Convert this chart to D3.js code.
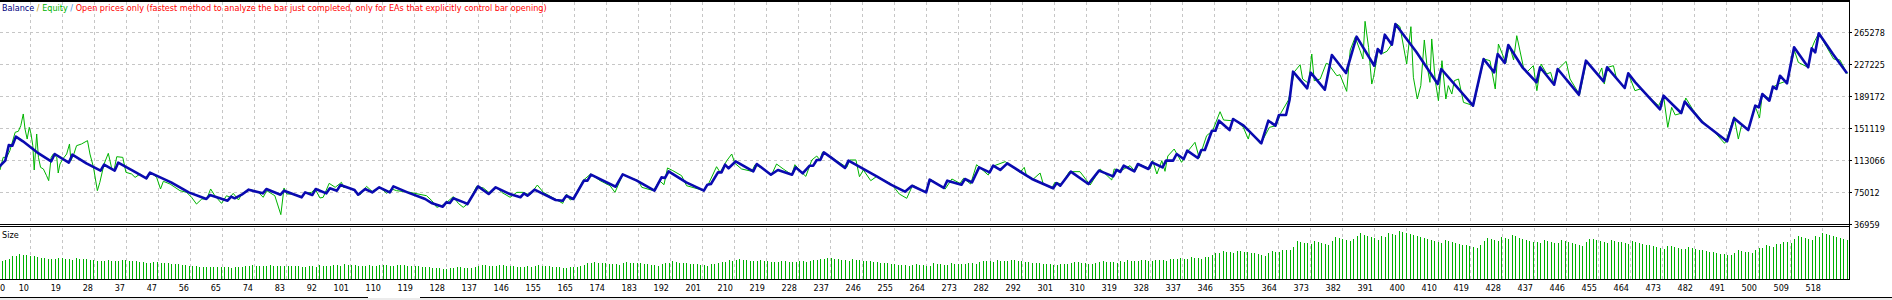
<!DOCTYPE html>
<html>
<head>
<meta charset="utf-8">
<script src="https://cdn.jsdelivr.net/npm/d3@7"></script>
<style>
    html, body { margin: 0; padding: 0; background: #fff; }
    svg { display: block; font-family: "DejaVu Sans Condensed", "DejaVu Sans", sans-serif; font-stretch: condensed; font-size: 9px; }
</style>
</head>
<body>
<div id="chart"></div>
<script>
// trade number labels under the vertical grid lines
const xTickLabels = [0, 10, 19, 28, 37, 47, 56, 65, 74, 83, 92, 101, 110, 119, 128, 137, 146, 155, 165, 174,
    183, 192, 201, 210, 219, 228, 237, 246, 255, 264, 273, 282, 292, 301, 310, 319, 328, 337, 346, 355,
    364, 373, 382, 391, 400, 410, 419, 428, 437, 446, 455, 464, 473, 482, 491, 500, 509, 518];

// money axis labels
const yTickValues = [36959, 75012, 113066, 151119, 189172, 227225, 265278];

// balance turning points: [trade, balance in thousands]
const balancePoints = [[0,100.0],[3,112.3],[4,130.9],[5,130.1],[6,140.8],[8,135.3],[12,122.2],[16,111.5],[17,120.2],
    [21,109.9],[22,119.4],[26,109.1],[30,100.4],[31,107.5],[34,100.4],[35,109.9],[40,98.4],[43,91.3],[44,98.0],
    [50,86.5],[55,74.6],[60,66.7],[61,71.4],[66,64.7],[67,69.5],[68,67.5],[70,71.8],[72,77.8],[76,73.4],[77,78.6],
    [81,71.8],[82,76.6],[87,68.7],[88,74.6],[90,71.4],[91,78.6],[94,73.4],[95,79.4],[97,76.6],[98,83.3],[102,77.4],
    [103,71.8],[105,78.6],[107,74.6],[109,80.6],[112,74.6],[113,81.7],[117,74.6],[122,66.7],[124,61.5],[127,57.6],
    [128,62.7],[129,61.9],[130,67.5],[133,62.7],[134,60.7],[137,81.7],[140,72.6],[142,80.6],[146,72.6],[149,68.7],
    [150,73.4],[151,70.6],[153,77.8],[159,65.5],[161,64.7],[162,70.6],[164,66.7],[167,88.5],[168,88.5],[169,95.6],
    [176,81.3],[178,96.0],[182,88.5],[187,76.6],[189,92.4],[190,91.7],[191,99.6],[196,86.5],[201,76.6],[202,83.7],
    [203,84.5],[205,98.4],[206,98.4],[207,107.5],[208,103.2],[210,111.5],[215,99.6],[216,108.3],[220,95.6],[222,101.2],
    [226,95.6],[227,104.3],[229,97.2],[231,106.3],[232,106.3],[233,113.1],[234,113.1],[235,122.2],[237,116.2],[241,103.6],
    [242,112.3],[250,93.6],[254,83.7],[258,75.4],[260,82.5],[264,74.6],[265,89.7],[269,79.8],[270,88.5],[274,83.7],
    [275,90.5],[277,86.5],[279,104.3],[282,98.4],[283,106.3],[285,101.2],[287,109.1],[291,98.4],[294,90.5],[300,79.4],
    [301,85.7],[302,82.5],[305,99.2],[310,84.5],[313,100.4],[317,93.6],[318,101.2],[319,98.8],[320,106.3],[323,99.6],
    [324,108.3],[327,102.4],[328,110.3],[331,104.3],[332,112.3],[334,112.3],[335,120.2],[337,114.2],[338,124.2],[341,115.4],
    [342,124.9],[343,124.9],[345,147.9],[346,147.9],[347,159.8],[350,148.7],[351,161.8],[354,153.9],[359,132.9],[361,159.8],
    [363,153.9],[364,166.6],[366,166.6],[367,184.4],[368,218.1],[372,198.3],[373,216.9],[377,196.7],[379,237.9],[383,216.5],
    [386,259.7],[391,225.2],[392,245.1],[393,239.9],[394,262.1],[396,250.2],[397,274.8],[403,241.1],[409,203.4],[410,221.3],
    [419,177.7],[422,233.2],[425,217.3],[426,239.1],[428,228.4],[429,249.8],[433,223.3],[437,205.4],[438,223.3],[442,202.6],
    [443,221.3],[449,190.8],[451,231.2],[456,206.6],[457,223.3],[462,198.7],[463,216.1],[465,205.4],[472,173.3],[473,189.6],
    [478,168.9],[479,182.4],[484,157.9],[491,135.3],[493,162.6],[497,148.7],[499,177.7],[500,175.7],[501,191.5],[503,183.6],
    [504,200.3],[505,197.5],[506,213.3],[508,204.2],[510,247.0],[514,223.3],[515,245.9],[516,241.1],[517,263.7],[521,239.1],
    [525,216.1]];

// equity turning points: [trade, equity in thousands]
const equityPoints = [[0,100.0],[1.5,101.2],[2.4,116.2],[3.4,116.2],[4.3,124.2],[5.8,146.0],[6.7,147.2],[7.4,153.9],
    [8.1,167.8],[8.6,149.9],[9.2,138.0],[9.8,151.9],[10.3,144.0],[10.8,130.1],[11.2,101.2],[11.9,144.0],[12.4,116.2],
    [13.0,104.3],[13.8,102.4],[14.7,94.4],[15.3,88.5],[16.0,116.2],[16.6,120.2],[17.6,116.2],[18.0,97.6],[18.5,108.3],
    [19.3,114.2],[20.4,120.2],[21.2,132.1],[21.6,112.3],[22.5,121.0],[23.2,130.1],[24.6,132.1],[26.3,136.1],[27.0,120.2],
    [28.0,104.3],[29.1,76.6],[29.8,86.5],[31.0,108.3],[32.2,121.0],[33.1,104.3],[33.8,100.4],[34.6,117.0],[36.3,116.2],
    [37.2,98.4],[38.8,96.4],[39.8,92.4],[41.2,96.4],[43.1,90.5],[44.2,98.4],[45.9,92.4],[47.0,78.6],[47.8,87.7],[49.7,84.5],
    [52.5,76.6],[54.4,74.6],[55.8,68.7],[57.2,60.7],[58.7,66.7],[60.1,66.7],[61.2,78.6],[62.4,70.6],[64.3,61.5],[65.7,70.6],
    [66.7,68.7],[67.6,73.4],[69.1,65.5],[70.0,72.6],[71.4,76.6],[72.8,77.4],[74.7,74.6],[76.1,68.7],[77.1,76.6],[79.4,70.6],
    [81.1,48.1],[82.0,79.8],[82.8,72.6],[84.6,72.6],[87.0,69.5],[87.9,73.4],[89.8,74.6],[90.8,78.6],[92.2,67.9],[93.1,68.7],
    [94.8,85.3],[96.5,80.6],[98.3,86.5],[98.8,80.6],[100.7,79.8],[102.6,74.6],[103.5,71.4],[105.4,81.7],[107.3,74.6],
    [109.2,80.6],[111.1,73.4],[112.5,78.6],[113.9,76.6],[117.7,74.6],[122.4,70.6],[123.9,64.7],[125.3,56.8],[126.7,58.8],
    [128.1,62.7],[130.0,69.5],[131.4,61.5],[132.8,56.8],[134.0,60.7],[136.6,81.7],[138.5,79.8],[140.4,73.4],[142.3,80.6],
    [143.7,74.6],[146.1,68.7],[148.0,74.6],[149.8,74.6],[151.7,71.4],[153.8,83.3],[155.5,74.6],[159.3,65.5],[161.0,61.5],
    [162.1,72.6],[163.1,65.5],[164.0,66.7],[166.7,88.5],[168.9,96.4],[171.6,88.5],[174.4,82.5],[175.8,74.6],[178.0,95.6],
    [182.4,88.5],[183.4,80.6],[186.7,76.6],[188.4,88.5],[189.7,83.7],[190.7,103.6],[192.2,100.4],[194.7,94.4],[196.1,82.5],
    [199.4,78.6],[200.9,76.6],[202.3,84.5],[204.6,105.1],[205.6,98.4],[207.5,112.3],[208.9,120.2],[209.8,109.1],[211.7,102.4],
    [214.6,99.6],[215.5,107.5],[217.9,102.4],[220.2,95.6],[221.6,108.3],[223.5,102.4],[225.9,95.6],[226.8,107.5],[228.7,98.4],
    [229.9,93.6],[231.6,113.1],[233.0,117.8],[233.9,113.1],[234.6,122.2],[237.2,116.2],[241.5,104.3],[242.4,113.1],[244.1,113.1],
    [245.1,93.2],[246.2,101.2],[248.3,88.5],[250.0,93.6],[254.2,84.5],[256.4,72.6],[258.5,67.5],[260.2,83.3],[263.7,74.6],
    [265.4,89.7],[269.4,78.6],[271.3,90.5],[273.6,85.3],[274.6,91.3],[276.6,84.5],[278.3,107.5],[281.6,95.2],[282.6,105.1],
    [286.4,111.1],[290.6,98.4],[291.8,104.3],[292.5,93.6],[294.4,90.5],[296.3,97.6],[297.2,84.5],[299.6,79.4],[300.5,86.5],
    [302.4,84.5],[304.6,99.2],[307.6,99.2],[310.5,83.3],[313.3,102.4],[316.6,89.3],[317.3,102.4],[319.2,100.4],[321.8,106.3],
    [323.2,99.6],[324.4,108.3],[327.5,102.4],[328.2,112.3],[329.4,96.4],[330.8,112.3],[331.7,99.6],[332.5,117.8],[334.3,126.1],
    [336.4,110.3],[338.3,124.2],[340.2,134.1],[341.4,115.4],[343.5,142.0],[345.2,147.9],[347.3,170.5],[348.3,160.6],[350.6,159.8],
    [351.3,161.8],[353.9,151.9],[355.3,138.0],[355.8,145.9],[358.8,132.1],[361.3,151.9],[363.2,153.9],[364.5,168.6],[366.7,184.4],
    [368.4,218.1],[370.0,226.4],[370.7,209.4],[372.4,204.2],[373.3,239.1],[374.0,207.4],[375.7,209.4],[377.4,228.0],[378.0,227.2],
    [380.4,213.3],[381.3,214.5],[383.2,194.7],[384.2,243.9],[385.6,258.9],[387.0,243.1],[387.8,233.2],[388.4,278.0],[389.4,247.0],
    [390.3,203.4],[390.8,211.4],[392.2,245.1],[393.4,239.9],[394.6,242.3],[396.0,251.0],[397.4,274.8],[398.3,271.6],[400.2,227.2],
    [401.4,271.6],[402.1,211.4],[403.2,185.6],[404.2,201.5],[405.2,255.8],[405.9,227.2],[406.8,205.4],[407.3,257.0],[408.3,207.4],
    [409.2,183.6],[410.2,231.2],[411.3,185.6],[412.0,201.5],[413.0,191.5],[413.7,207.4],[414.9,209.4],[416.3,181.6],[419.1,177.7],
    [422.1,233.2],[423.8,231.2],[425.3,197.5],[426.2,251.0],[428.3,228.4],[429.3,249.8],[430.5,232.0],[431.4,260.9],[433.3,223.3],
    [434.2,217.3],[436.1,225.2],[437.1,195.5],[438.3,227.2],[439.9,215.3],[441.0,217.3],[442.0,202.6],[443.2,221.3],[445.4,230.4],
    [446.5,209.4],[449.2,190.8],[451.2,231.2],[454.5,213.3],[455.5,222.5],[456.2,203.4],[457.2,223.3],[458.8,225.2],[459.7,209.4],
    [462.1,198.7],[463.0,216.1],[464.9,195.5],[466.4,197.5],[471.6,177.7],[473.0,189.6],[474.2,151.9],[475.3,175.7],[476.3,166.6],
    [478.2,168.9],[479.3,186.8],[481.5,171.7],[484.3,157.9],[487.1,147.9],[490.3,132.9],[490.7,135.3],[493.0,164.6],[494.2,138.0],
    [495.2,155.9],[497.1,148.7],[498.9,177.7],[500.2,163.0],[501.0,191.5],[503.2,185.6],[504.2,200.3],[506.0,204.2],[508.1,207.4],
    [510.1,243.1],[511.2,229.2],[513.9,223.3],[515.0,245.9],[515.9,255.0],[517.0,263.7],[519.3,247.0],[521.2,233.2],[523.0,232.0],
    [525.1,215.3]];

// position size (lots) for trades 1 .. 525
const lotSizes = [
    1.00,1.04,1.08,1.12,1.31,1.30,1.41,1.38,1.35,1.32,1.29,1.26,1.22,1.20,1.17,1.14,1.12,1.20,1.18,1.15,
    1.13,1.10,1.19,1.17,1.14,1.12,1.09,1.07,1.05,1.03,1.00,1.08,1.05,1.03,1.00,1.10,1.08,1.05,1.03,1.01,
    0.98,0.96,0.94,0.91,0.98,0.96,0.94,0.92,0.90,0.88,0.87,0.84,0.82,0.79,0.77,0.75,0.73,0.71,0.70,0.68,
    0.67,0.71,0.70,0.69,0.67,0.66,0.65,0.70,0.68,0.70,0.72,0.75,0.78,0.77,0.76,0.75,0.73,0.79,0.77,0.75,
    0.74,0.72,0.77,0.75,0.74,0.72,0.70,0.69,0.75,0.73,0.71,0.79,0.77,0.75,0.73,0.79,0.78,0.77,0.83,0.82,
    0.80,0.79,0.77,0.72,0.75,0.79,0.77,0.75,0.78,0.81,0.79,0.77,0.75,0.82,0.80,0.78,0.76,0.75,0.73,0.72,
    0.70,0.68,0.67,0.64,0.62,0.60,0.59,0.58,0.63,0.62,0.68,0.66,0.64,0.63,0.61,0.68,0.75,0.82,0.79,0.76,
    0.73,0.77,0.81,0.79,0.77,0.75,0.73,0.71,0.70,0.69,0.73,0.71,0.74,0.78,0.76,0.74,0.72,0.70,0.68,0.66,
    0.65,0.65,0.71,0.69,0.67,0.74,0.81,0.89,0.89,0.96,0.94,0.92,0.90,0.87,0.85,0.83,0.81,0.89,0.96,0.94,
    0.92,0.90,0.89,0.86,0.84,0.81,0.79,0.77,0.85,0.92,0.92,1.00,0.97,0.94,0.92,0.89,0.87,0.85,0.83,0.81,
    0.79,0.77,0.84,0.85,0.92,0.98,0.98,1.08,1.03,1.07,1.12,1.09,1.07,1.04,1.02,1.00,1.08,1.05,1.02,0.99,
    0.96,0.98,1.01,1.00,0.98,0.97,0.96,1.04,1.01,0.97,1.02,1.06,1.06,1.13,1.13,1.22,1.19,1.16,1.13,1.10,
    1.07,1.04,1.12,1.10,1.08,1.05,1.03,1.01,0.98,0.96,0.94,0.91,0.89,0.86,0.84,0.82,0.80,0.78,0.75,0.79,
    0.83,0.81,0.79,0.77,0.75,0.90,0.87,0.85,0.82,0.80,0.89,0.87,0.86,0.85,0.84,0.91,0.89,0.87,0.95,1.04,
    1.02,1.00,0.98,1.06,1.04,1.01,1.05,1.09,1.06,1.04,1.01,0.98,0.96,0.93,0.91,0.89,0.87,0.85,0.83,0.81,
    0.79,0.86,0.83,0.88,0.94,0.99,0.96,0.93,0.90,0.87,0.85,0.90,0.95,1.00,0.99,0.97,0.95,0.94,1.01,0.99,
    1.06,1.04,1.02,1.00,1.08,1.06,1.04,1.02,1.10,1.08,1.06,1.04,1.12,1.12,1.12,1.20,1.17,1.14,1.24,1.21,
    1.18,1.15,1.25,1.25,1.36,1.48,1.48,1.60,1.56,1.52,1.49,1.62,1.59,1.57,1.54,1.50,1.46,1.41,1.37,1.33,
    1.46,1.60,1.57,1.54,1.67,1.67,1.67,1.84,2.18,2.13,2.08,2.03,1.98,2.17,2.12,2.07,2.02,1.97,2.17,2.38,
    2.33,2.27,2.22,2.17,2.31,2.45,2.60,2.53,2.46,2.39,2.32,2.25,2.45,2.40,2.62,2.56,2.50,2.75,2.69,2.64,
    2.58,2.52,2.47,2.41,2.35,2.29,2.22,2.16,2.10,2.03,2.21,2.17,2.12,2.07,2.02,1.97,1.92,1.87,1.83,1.78,
    1.96,2.15,2.33,2.28,2.23,2.17,2.39,2.34,2.28,2.50,2.43,2.37,2.30,2.23,2.19,2.14,2.10,2.05,2.23,2.18,
    2.13,2.08,2.03,2.21,2.16,2.11,2.06,2.01,1.96,1.91,2.11,2.31,2.26,2.21,2.16,2.12,2.07,2.23,2.18,2.13,
    2.09,2.04,1.99,2.16,2.11,2.05,2.01,1.96,1.92,1.87,1.82,1.78,1.73,1.90,1.86,1.81,1.77,1.73,1.69,1.82,
    1.78,1.73,1.68,1.63,1.58,1.55,1.52,1.48,1.45,1.42,1.39,1.35,1.49,1.63,1.59,1.56,1.52,1.49,1.63,1.78,
    1.76,1.92,1.88,1.84,2.00,1.98,2.13,2.09,2.04,2.26,2.47,2.41,2.35,2.29,2.23,2.46,2.41,2.64,2.58,2.51,
    2.45,2.39,2.33,2.28,2.22];

const width = 1892, height = 300;
const plotRight = 1849,
    mainTop = 2, mainBottom = 224,
    subTop = 227, subBottom = 279;

const svg = d3.select("#chart").append("svg")
    .attr("width", width)
    .attr("height", height);

svg.append("rect").attr("width", width).attr("height", height).attr("fill", "#fff");

const x = d3.scaleLinear().domain([0, 525]).range([-5.3, 1847]);
const y = d3.scaleLinear().domain([36959, 265278]).range([mainBottom, 32]);
const ySize = d3.scaleLinear().domain([0, 2.97]).range([subBottom, subTop]);
// one grid step every 32 px, labelled with the trade number found there
const gx = d3.scaleLinear().domain([0, xTickLabels.length - 1]).range([-2, 1822]);

const grid = svg.append("g")
    .attr("stroke", "#c6c6c6")
    .attr("stroke-dasharray", "3,3")
    .attr("shape-rendering", "crispEdges");

xTickLabels.forEach(function (lab, k) {
    if (k === 0) return;
    const px = Math.round(gx(k)) + 0.5;
    grid.append("line").attr("x1", px).attr("x2", px).attr("y1", mainTop).attr("y2", mainBottom);
    grid.append("line").attr("x1", px).attr("x2", px).attr("y1", subTop + 1).attr("y2", subBottom);
});

yTickValues.slice(1).forEach(function (v) {
    const py = Math.round(y(v)) + 0.5;
    grid.append("line").attr("x1", 0).attr("x2", plotRight).attr("y1", py).attr("y2", py);
});

// size bars
svg.append("g")
    .selectAll("rect")
    .data(lotSizes)
    .enter()
    .append("rect")
    .attr("x", function (d, i) { return Math.round(x(i + 1)); })
    .attr("y", function (d) { return Math.round(ySize(d)); })
    .attr("width", 1)
    .attr("height", function (d) { return subBottom - Math.round(ySize(d)); })
    .attr("fill", "#00b000")
    .attr("shape-rendering", "crispEdges");

svg.append("clipPath").attr("id", "mainClip")
    .append("rect").attr("x", 0).attr("y", mainTop).attr("width", plotRight).attr("height", mainBottom - mainTop);

const line = d3.line()
    .x(function (d) { return x(d[0]); })
    .y(function (d) { return y(d[1] * 1000); });

const plot = svg.append("g").attr("clip-path", "url(#mainClip)");

plot.append("path")
    .datum(equityPoints)
    .attr("d", line)
    .attr("fill", "none")
    .attr("stroke", "#00b400")
    .attr("stroke-width", 1);

plot.append("path")
    .datum(balancePoints)
    .attr("d", line)
    .attr("fill", "none")
    .attr("stroke", "#0a0ab0")
    .attr("stroke-width", 2.6)
    .attr("stroke-linejoin", "round");

// frame
const frame = svg.append("g").attr("stroke", "#000").attr("shape-rendering", "crispEdges");
frame.append("line").attr("x1", 0).attr("x2", plotRight).attr("y1", 0.5).attr("y2", 0.5).attr("stroke-width", 2);
frame.append("line").attr("x1", plotRight + 0.5).attr("x2", plotRight + 0.5).attr("y1", 0).attr("y2", subBottom + 1);
frame.append("line").attr("x1", 0).attr("x2", plotRight).attr("y1", mainBottom + 0.5).attr("y2", mainBottom + 0.5);
frame.append("line").attr("x1", 0).attr("x2", plotRight).attr("y1", subTop - 0.5).attr("y2", subTop - 0.5);
frame.append("line").attr("x1", 0).attr("x2", plotRight).attr("y1", subBottom + 0.5).attr("y2", subBottom + 0.5);

// y labels
yTickValues.forEach(function (v) {
    const py = Math.round(y(v)) + 0.5;
    frame.append("line").attr("x1", plotRight).attr("x2", plotRight + 3).attr("y1", py).attr("y2", py);
    svg.append("text")
        .attr("x", plotRight + 5)
        .attr("y", py + 3.5)
        .attr("fill", "#000")
        .text(v);
});

// x labels, right-aligned against their grid line
xTickLabels.forEach(function (lab, k) {
    const t = svg.append("text")
        .attr("y", 291)
        .attr("fill", "#000")
        .text(lab);
    const w = t.node().getComputedTextLength();
    const right = Math.max(gx(k) - 1, w);
    t.attr("x", right - w);
});

// bottom strip with the two tab outlines
svg.append("rect").attr("x", 0).attr("y", 298).attr("width", width).attr("height", 2).attr("fill", "#ececec");
frame.append("line").attr("x1", 0).attr("x2", 368).attr("y1", 297.5).attr("y2", 297.5);
frame.append("line").attr("x1", 367.5).attr("x2", 367.5).attr("y1", 297).attr("y2", 300);
frame.append("line").attr("x1", 420).attr("x2", width).attr("y1", 297.5).attr("y2", 297.5);
frame.append("line").attr("x1", 420.5).attr("x2", 420.5).attr("y1", 297).attr("y2", 300);

// legend
const legend = svg.append("text").attr("x", 2).attr("y", 11);
legend.append("tspan").attr("fill", "#000080").text("Balance");
legend.append("tspan").attr("fill", "#c8a000").text(" / ");
legend.append("tspan").attr("fill", "#00b400").text("Equity");
legend.append("tspan").attr("fill", "#3c8cdc").text(" / ");
legend.append("tspan").attr("fill", "#ff0000")
    .text("Open prices only (fastest method to analyze the bar just completed, only for EAs that explicitly control bar opening)");

svg.append("text").attr("x", 2).attr("y", 238).attr("fill", "#000").text("Size");
</script>
</body>
</html>
